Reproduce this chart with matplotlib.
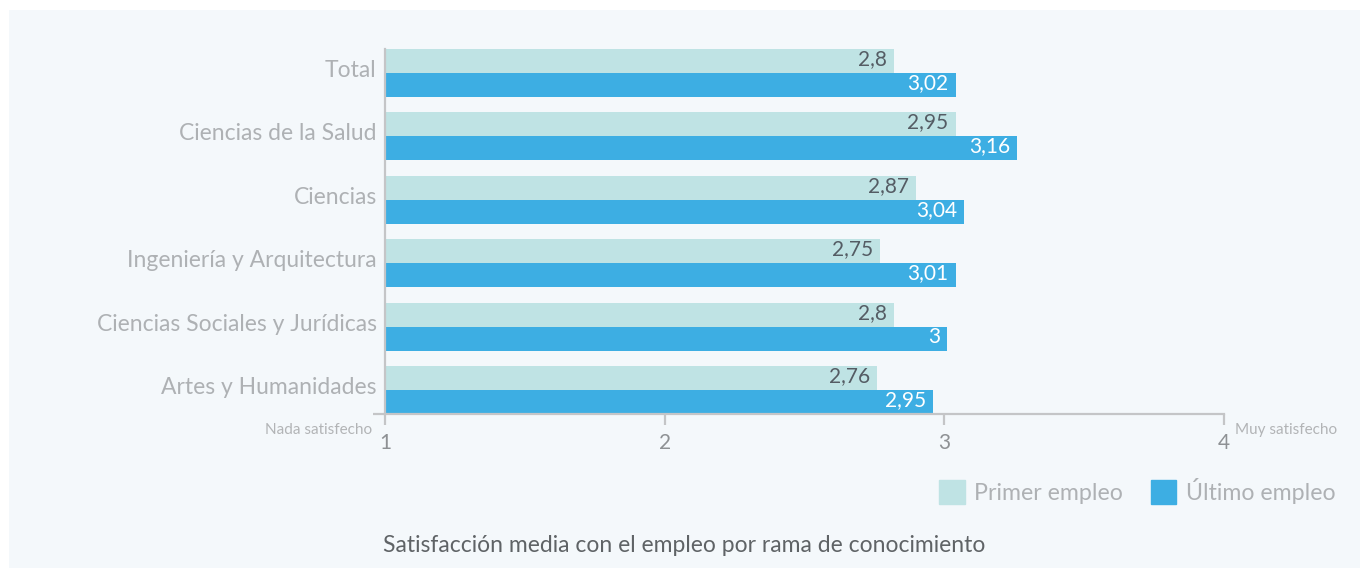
import matplotlib.pyplot as plt
from matplotlib.patches import Rectangle, Patch

ramas = ['Total', 'Ciencias de la Salud', 'Ciencias', 'Ingeniería y Arquitectura',
         'Ciencias Sociales y Jurídicas', 'Artes y Humanidades']
primer = [2.82, 3.04, 2.90, 2.77, 2.82, 2.76]
ultimo = [3.04, 3.26, 3.07, 3.04, 3.01, 2.96]
etiq_primer = ['2,8', '2,95', '2,87', '2,75', '2,8', '2,76']
etiq_ultimo = ['3,02', '3,16', '3,04', '3,01', '3', '2,95']

c_primer = '#bfe3e4'
c_ultimo = '#3daee3'
gris = '#aeb1b4'
plt.rcParams['font.family'] = ['Lato', 'DejaVu Sans']

fig = plt.figure(figsize=(13.6, 5.68), dpi=100, facecolor='white')
# panel de fondo
fig.patches.append(Rectangle((9 / 1360, 0), 1, 1 - 10 / 568, transform=fig.transFigure,
                             facecolor='#f4f8fb', edgecolor='none', zorder=-10))

ax = fig.add_axes([385 / 1360, 1 - 414 / 568, (1224 - 385) / 1360, 365 / 568])
ax.set_facecolor('none')

h = 0.377
y = list(range(len(ramas)))
ax.barh([i - h / 2 for i in y], [v - 1 for v in primer], left=1, height=h, color=c_primer)
ax.barh([i + h / 2 for i in y], [v - 1 for v in ultimo], left=1, height=h, color=c_ultimo)

for i in y:
    ax.text(primer[i] - 0.025, i - h / 2 - 0.03, etiq_primer[i],
            ha='right', va='center', fontsize=15, color='#545c64')
    ax.text(ultimo[i] - 0.025, i + h / 2 - 0.03, etiq_ultimo[i],
            ha='right', va='center', fontsize=15, color='white')

ax.set_xlim(1, 4)
ax.set_ylim(len(ramas) - 1 + h, -h)
ax.set_xticks([1, 2, 3, 4])
ax.set_yticks([i - 0.07 for i in y])
ax.set_yticklabels(ramas, fontsize=16.5, color=gris)
ax.set_yticks([ax.get_ylim()[0]], minor=True)

for s in ['top', 'right']:
    ax.spines[s].set_visible(False)
for s in ['left', 'bottom']:
    ax.spines[s].set_color('#c4c5c7')
    ax.spines[s].set_linewidth(1.6)
ax.tick_params(axis='y', which='major', length=0, pad=6)
ax.tick_params(axis='y', which='minor', length=9, width=1.6, color='#c4c5c7')
ax.tick_params(axis='x', length=8, width=1.6, color='#c4c5c7', labelsize=15,
               labelcolor='#8e9194', pad=6)

ax.text(-0.015, -0.025, 'Nada satisfecho', transform=ax.transAxes, ha='right', va='top',
        fontsize=11, color='#b2b4b6')
ax.text(1.013, -0.025, 'Muy satisfecho', transform=ax.transAxes, ha='left', va='top',
        fontsize=11, color='#b2b4b6')

leg = fig.legend(handles=[Patch(color=c_primer, label='Primer empleo'),
                          Patch(color=c_ultimo, label='Último empleo')],
                 loc='center right', bbox_to_anchor=(1356 / 1360, 1 - 491 / 568), ncol=2,
                 frameon=False, fontsize=16.7, handlelength=1.1, handleheight=1.2,
                 handletextpad=0.4, columnspacing=1.2)
for t in leg.get_texts():
    t.set_color(gris)

fig.text(684 / 1360, 1 - 545 / 568, 'Satisfacción media con el empleo por rama de conocimiento',
         ha='center', va='center', fontsize=16.5, color='#5f6366')

fig.savefig('out.png', dpi=100, facecolor='white')
